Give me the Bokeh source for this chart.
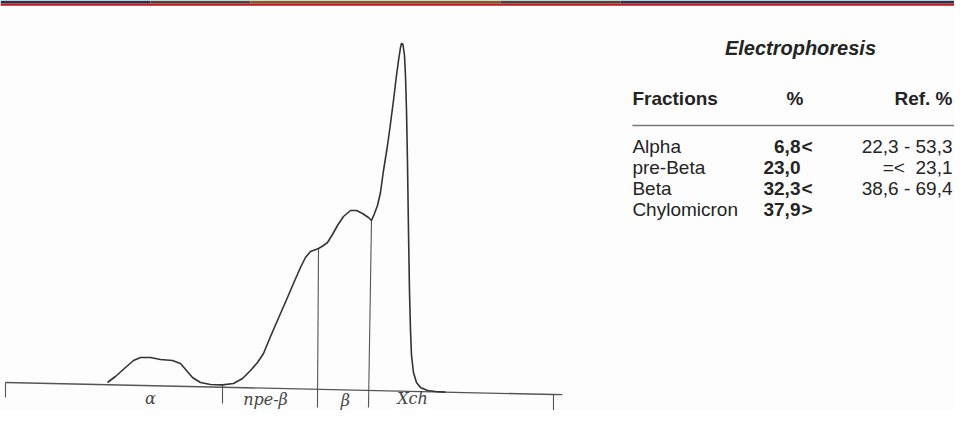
from bokeh.plotting import figure
from bokeh.models import Range1d, ColumnDataSource
from bokeh.core.properties import value
from bokeh.embed import file_html
from bokeh.resources import INLINE

# ---------------- data ----------------
# densitometry trace: mobility (0..100 along strip) vs optical density (arb. units)
mobility = [18.61, 20.07, 21.90, 23.36, 24.64, 26.46, 28.28, 30.47, 31.93, 33.03,
            34.12, 35.58, 37.41, 39.60, 41.61, 43.25, 44.71, 45.99, 47.08, 48.36,
            50.18, 51.46, 52.55, 53.83, 54.74, 55.66, 57.12, 58.03, 58.76, 59.67,
            60.58, 61.68, 62.96, 64.05, 65.15, 66.24, 66.79, 67.34, 67.88, 68.43,
            68.98, 69.71, 70.26, 70.80, 71.35, 71.72, 72.08, 72.26, 72.54, 72.81,
            72.99, 73.18, 73.36, 73.54, 73.72, 73.91, 74.09, 74.45, 75.00, 75.73,
            77.01, 78.47, 80.29]
density = [9.0, 10.5, 12.75, 14.5, 15.25, 15.25, 14.75, 14.5, 13.75, 12.0,
           10.25, 9.0, 8.5, 8.4, 8.75, 10.0, 12.0, 14.0, 16.25, 20.5,
           26.25, 30.25, 33.75, 37.75, 40.25, 41.75, 42.5, 43.25, 44.0, 46.0,
           48.25, 50.5, 52.0, 52.0, 51.25, 50.25, 49.5, 51.25, 53.25, 56.5,
           62.0, 68.25, 73.75, 79.5, 85.75, 89.5, 92.75, 93.75, 93.5, 90.75,
           85.75, 77.0, 63.75, 47.0, 32.0, 22.0, 15.75, 11.5, 9.0, 7.75,
           7.0, 6.75, 6.6]

# baseline of the scan (start / end of strip)
baseline_x = [0.0, 100.0, 101.6]
baseline_y = [9.0, 6.0, 5.95]

# fraction boundaries (top on curve, bottom below baseline)
boundary_x_top = [0.0, 39.60, 57.12, 66.79, 100.0]
boundary_y_top = [9.0, 8.4, 42.5, 49.5, 6.0]
boundary_x_bot = [0.0, 39.60, 56.93, 66.24, 100.0]
boundary_y_bot = [5.25, 3.75, 2.75, 2.75, 2.1]

# handwritten fraction marks
hand_labels = ["α", "пре-β", "β", "Xch"]
hand_x = [26.46, 47.45, 62.04, 74.27]
hand_y = [5.0, 4.75, 4.6, 4.9]

# result table
table_title = "Electrophoresis"
headers = ["Fractions", "%", "Ref. %"]
fractions = ["Alpha", "pre-Beta", "Beta", "Chylomicron"]
percent = ["6,8", "23,0", "32,3", "37,9"]
flags = ["<", "", "<", ">"]
ref_range = ["22,3 - 53,3", "=<\u00a0\u00a023,1", "38,6 - 69,4", ""]

# ---------------- layout constants ----------------
W, H = 954, 410
X0, X1 = -0.912, 173.18
Y0, Y1 = 2.0, 104.5
FONT = value("Liberation Sans")
INK = "#242424"
FS = "19px"

col_name_x = 114.4
col_pct_x = 145.07
col_ref_x = 172.81
title_y = 92.7
header_y = 80.1
rule_y = 73.25
row_y0 = 67.9
row_step = 5.25

p = figure(width=W, height=H, x_range=Range1d(X0, X1), y_range=Range1d(Y0, Y1),
           output_backend="svg", toolbar_location=None, min_border=0)
p.min_border_left = p.min_border_right = p.min_border_top = p.min_border_bottom = 0
p.axis.visible = False
p.grid.visible = False
p.outline_line_color = None
p.background_fill_color = "#fdfdfd"
p.border_fill_color = "#fdfdfd"

# scanned header stripe (decoration)
px = (X1 - X0) / W
band_edges = [X0, X0 + 150 * px, X0 + 250 * px, X0 + 500 * px, X0 + 620 * px, X1]
band_cols = ["#1e3552", "#3d4a3e", "#6b6232", "#3d4a3e", "#1e3552"]
p.quad(left=band_edges[:-1], right=band_edges[1:], top=[Y1] * 5, bottom=[Y1 - 0.75] * 5,
       fill_color=band_cols, line_color=None)
p.quad(left=[X0], right=[X1], top=[Y1 - 0.75], bottom=[Y1 - 1.3],
       fill_color="#c4161c", line_color=None)

# baseline and boundary ticks
p.line(baseline_x, baseline_y, line_color="#555555", line_width=1.3)
p.segment(x0=boundary_x_top, y0=boundary_y_top, x1=boundary_x_bot, y1=boundary_y_bot,
          line_color="#555555", line_width=1.1)

# trace
p.line(mobility, density, line_color="#333333", line_width=1.6, line_join="round")

# handwritten labels
p.text(x=hand_x, y=hand_y, text=hand_labels, text_font=value("DejaVu Serif"),
       text_font_style="italic", text_font_size="16px", text_color="#444444",
       text_align="center", text_baseline="middle")

# table title
p.text(x=[col_pct_x], y=[title_y], text=[table_title], text_font=FONT,
       text_font_style="bold italic", text_font_size="20px", text_color=INK,
       text_align="center", text_baseline="middle")

# headers
p.text(x=[col_name_x], y=[header_y], text=[headers[0]], text_font=FONT,
       text_font_style="bold", text_font_size=FS, text_color=INK,
       text_align="left", text_baseline="middle")
p.text(x=[col_pct_x - 1.0], y=[header_y], text=[headers[1]], text_font=FONT,
       text_font_style="bold", text_font_size=FS, text_color=INK,
       text_align="center", text_baseline="middle")
p.text(x=[col_ref_x], y=[header_y], text=[headers[2]], text_font=FONT,
       text_font_style="bold", text_font_size=FS, text_color=INK,
       text_align="right", text_baseline="middle")
p.line([col_name_x, 173.2], [rule_y, rule_y], line_color="#777777", line_width=1.4)

rows_y = [row_y0 - i * row_step for i in range(len(fractions))]
src = ColumnDataSource(dict(y=rows_y, name=fractions, pct=percent, flag=flags, ref=ref_range,
                            xn=[col_name_x] * 4, xp=[col_pct_x] * 4,
                            xf=[col_pct_x + 0.2] * 4, xr=[col_ref_x] * 4))
p.text(x="xn", y="y", text="name", source=src, text_font=FONT, text_font_size=FS,
       text_color=INK, text_align="left", text_baseline="middle")
p.text(x="xp", y="y", text="pct", source=src, text_font=FONT, text_font_style="bold",
       text_font_size=FS, text_color=INK, text_align="right", text_baseline="middle")
p.text(x="xf", y="y", text="flag", source=src, text_font=FONT, text_font_style="bold",
       text_font_size=FS, text_color=INK, text_align="left", text_baseline="middle")
p.text(x="xr", y="y", text="ref", source=src, text_font=FONT, text_font_size=FS,
       text_color=INK, text_align="right", text_baseline="middle")

open("out.html", "w").write(file_html(p, INLINE))
